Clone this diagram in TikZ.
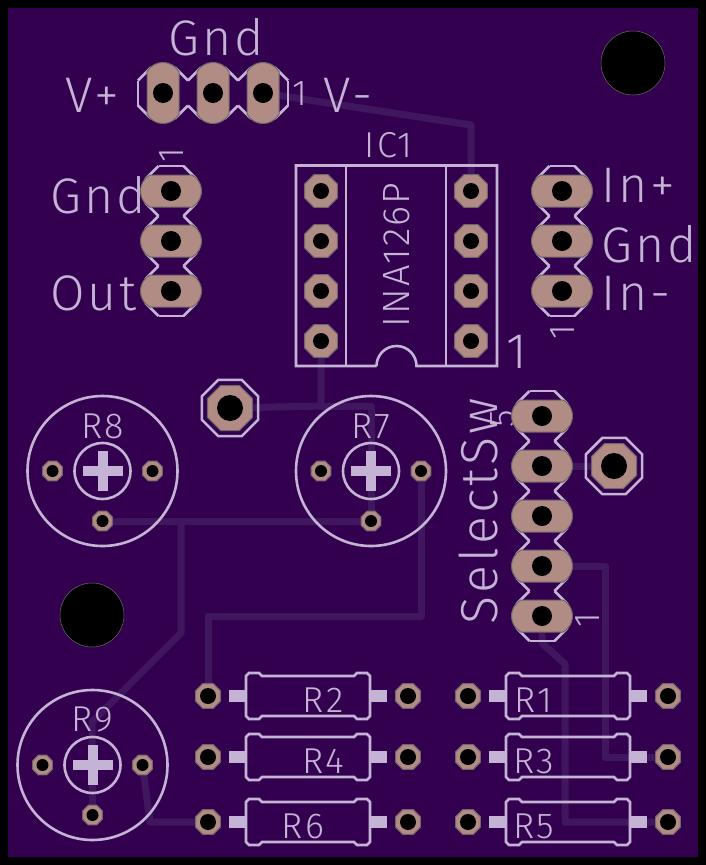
\documentclass[tikz,border=0pt]{standalone}
\usepackage{fontspec}
\setmainfont[LetterSpace=6]{Fira Sans Light}
\usetikzlibrary{shapes.geometric}
\usetikzlibrary{shapes.misc}
\definecolor{boardcol}{HTML}{330050}
\definecolor{tracecol}{HTML}{40165F}
\definecolor{silkcol}{HTML}{C4B3D4}
\definecolor{coppercol}{HTML}{B08C84}
\definecolor{rimcol}{HTML}{6E6668}
\pgfdeclarelayer{board}
\pgfdeclarelayer{trace}
\pgfdeclarelayer{silk}
\pgfsetlayers{board,trace,silk,main}
\tikzset{
  silk/.style={draw=silkcol,line width=2.6pt,line join=miter},
  trace/.style={draw=tracecol,line width=7pt,line join=round},
  bigtext/.style={inner sep=0pt,text=silkcol,font=\fontsize{50}{50}\selectfont},
  smalltext/.style={inner sep=0pt,text=silkcol,font=\fontsize{36}{36}\selectfont},
  octpad/.style 2 args={regular polygon,regular polygon sides=8,inner sep=0pt,minimum size=#1,
    fill=coppercol,draw=rimcol,line width=1pt,
    path picture={\fill[black] (path picture bounding box.center) circle (#2);}},
  icpad/.style={octpad={35.7pt}{8pt}},
  respad/.style={octpad={27pt}{8pt}},
  potpad/.style={octpad={21.5pt}{6pt}},
  viapad/.style={octpad={48.7pt}{13pt}},
  viaring/.style={regular polygon,regular polygon sides=8,inner sep=0pt,minimum size=61pt,silk},
  longpad/.style={rounded rectangle,rounded rectangle arc length=120,inner sep=0pt,
    minimum width=61pt,minimum height=32pt,fill=coppercol,draw=rimcol,line width=1pt,
    path picture={\fill[black] (path picture bounding box.center) circle (10pt);}},
  mounthole/.style={circle,inner sep=0pt,minimum size=64pt,fill=black,draw=rimcol,line width=.5pt},
  hdrpin/.pic={
    \draw[silk] (-25,-12.5) -- (-12.5,-25) -- (12.5,-25) -- (25,-12.5);
    \draw[silk] (-25,12.5) -- (-12.5,25) -- (12.5,25) -- (25,12.5);
  },
  trimpot/.pic={
    \draw[silk] (0,0) circle (75);
    \draw[silk] (0,0) circle (28);
    \fill[silkcol] (-20,-5) rectangle (20,5);
    \fill[silkcol] (-5,-20) rectangle (5,20);
  },
  resbody/.pic={
    \draw[silk] (-46,-20) -- (-49,-23) -- (-59,-23) -- (-62,-20) -- (-62,20) -- (-59,23) -- (-49,23)
      -- (-46,20) -- (46,20) -- (49,23) -- (59,23) -- (62,20) -- (62,-20) -- (59,-23) -- (49,-23)
      -- (46,-20) -- cycle;
    \fill[silkcol] (-79,-6) rectangle (-62,6);
    \fill[silkcol] (62,-6) rectangle (79,6);
  }
}
\begin{document}
\begin{tikzpicture}[x=1pt,y=-1pt]
\begin{pgfonlayer}{board}
  \fill[black] (0,0) rectangle (706,865);
  \fill[boardcol] (8,8) rectangle (698,857);
\end{pgfonlayer}

% mounting holes and the two big vias
\node[mounthole] (mountA) at (633,63) {};
\node[mounthole] (mountB) at (92,615) {};
\node[viapad] (viaA) at (230,408) {};
\node[viapad] (viaB) at (614,466) {};

% pin headers
\foreach \i/\x in {1/163,2/213,3/263}
  \node[longpad,rotate=90] (pwr\i) at (\x,93) {};
\foreach \i/\y in {1/191,2/241,3/291} {
  \node[longpad] (out\i) at (171,\y) {};
  \node[longpad] (in\i) at (562,\y) {};
}
\foreach \i/\y in {1/616,2/566,3/516,4/466,5/416}
  \node[longpad] (sel\i) at (542,\y) {};

% IC pads
\foreach \i/\y in {1/341,2/291,3/241,4/191} {
  \node[icpad] (icL\i) at (321,\y) {};
  \node[icpad] (icR\i) at (471,\y) {};
}

% trimmers and resistors
\foreach \p/\x/\y in {R8/102.5/471,R7/371/471,R9/92.5/765} {
  \node[potpad] (\p a) at ({\x-50},\y) {};
  \node[potpad] (\p b) at ({\x+50},\y) {};
  \node[potpad] (\p c) at (\x,{\y+50}) {};
  \begin{pgfonlayer}{silk}
    \pic at (\x,\y) {trimpot};
    \node[smalltext] (\p t) at (\x,{\y-45}) {\p};
  \end{pgfonlayer}
}
\foreach \p/\x/\y/\l in {R2/308/696/323,R4/308/757/323,R6/308/822/303,R1/568/696/533.5,R3/568/757/533.5,R5/568/822/533.5} {
  \node[respad] (\p a) at ({\x-100},\y) {};
  \node[respad] (\p b) at ({\x+100},\y) {};
  \begin{pgfonlayer}{silk}
    \pic at (\x,\y) {resbody};
    \node[smalltext] (\p t) at (\l,{\y+4}) {\p};
  \end{pgfonlayer}
}

% copper
\begin{pgfonlayer}{trace}
  \coordinate (bendA) at (471,125);
  \coordinate (bendB) at (321,406);
  \coordinate (bendC) at (371,406);
  \coordinate (bendD) at (181,521);
  \coordinate (bendE) at (181,633);
  \coordinate (bendF) at (92,722);
  \coordinate (bendG) at (421,616);
  \coordinate (bendH) at (208,616);
  \coordinate (bendI) at (150,822);
  \coordinate (bendJ) at (605,566);
  \coordinate (bendK) at (605,757);
  \coordinate (bendL) at (542,643);
  \coordinate (bendM) at (565,664);
  \coordinate (bendN) at (565,822);
  \draw[trace] (pwr3.center) -- (bendA) -- (icR4.center);
  \draw[trace] (icL1.center) -- (bendB) -- (viaA.center);
  \draw[trace] (bendB) -- (bendC) -- (R7c.center);
  \draw[trace] (R8c.center) -- (R7c.center);
  \draw[trace] (bendD) -- (bendE) -- (bendF) -- (R9c.center);
  \draw[trace] (R7b.center) -- (bendG) -- (bendH) -- (R2a.center);
  \draw[trace] (R9b.center) -- (bendI) -- (R6a.center);
  \draw[trace] (sel2.center) -- (bendJ) -- (bendK) -- (R3b.center);
  \draw[trace] (sel1.center) -- (bendL) -- (bendM) -- (bendN) -- (R5b.center);
  \draw[trace] (sel4.center) -- (viaB.center);
\end{pgfonlayer}

% silkscreen
\begin{pgfonlayer}{silk}
  \foreach \x in {163,213,263}
    \pic at (\x,93) {hdrpin};
  \draw[silk] (138,80.5) -- (138,105.5);
  \draw[silk] (288,80.5) -- (288,105.5);
  \foreach \y in {191,241,291} {
    \pic[rotate=90] at (171,\y) {hdrpin};
    \pic[rotate=90] at (562,\y) {hdrpin};
  }
  \draw[silk] (158.5,166) -- (183.5,166);
  \draw[silk] (158.5,316) -- (183.5,316);
  \draw[silk] (549.5,166) -- (574.5,166);
  \draw[silk] (549.5,316) -- (574.5,316);
  \foreach \y in {416,466,516,566,616}
    \pic[rotate=90] at (542,\y) {hdrpin};
  \draw[silk] (529.5,391) -- (554.5,391);
  \draw[silk] (529.5,641) -- (554.5,641);

  \draw[silk] (376.5,366) -- (296,366) -- (296,165.5) -- (497,165.5) -- (497,366) -- (416.5,366)
    arc[start angle=360,end angle=180,radius=20];
  \draw[silk] (346,165.5) -- (346,366);
  \draw[silk] (446,165.5) -- (446,366);

  \node[viaring] (ringA) at (230,408) {};
  \node[viaring] (ringB) at (614,466) {};

  \node[bigtext] (gndTop) at (216,37) {Gnd};
  \node[bigtext] (vPlus) at (92,95) {V+};
  \node[bigtext] (vMinus) at (348,95) {V-};
  \node[smalltext] (pwrOne) at (300,94) {1};
  \node[bigtext,anchor=west] (gndOut) at (50,195) {Gnd};
  \node[bigtext,anchor=west] (outLbl) at (50,293) {Out};
  \node[smalltext,rotate=90] (outOne) at (172,155) {1};
  \node[bigtext,anchor=west] (inPlus) at (601,185) {In+};
  \node[bigtext,anchor=west] (gndIn) at (601,244) {Gnd};
  \node[bigtext,anchor=west] (inMinus) at (601,293) {In-};
  \node[smalltext,rotate=90] (inOne) at (563,332) {1};
  \node[smalltext] (icName) at (388.5,145) {IC1};
  \node[smalltext,rotate=90,font=\fontsize{38}{38}\selectfont] (icType) at (397,255) {INA126P};
  \node[bigtext] (icOne) at (517,352) {1};
  \node[bigtext,rotate=90,font=\fontsize{52}{52}\selectfont] (selName) at (478,511) {SelectSw};
  \node[smalltext,rotate=90] (selOne) at (588,620) {1};
  \node[smalltext,rotate=90] (selFive) at (503,419) {5};
\end{pgfonlayer}
\end{tikzpicture}
\end{document}
